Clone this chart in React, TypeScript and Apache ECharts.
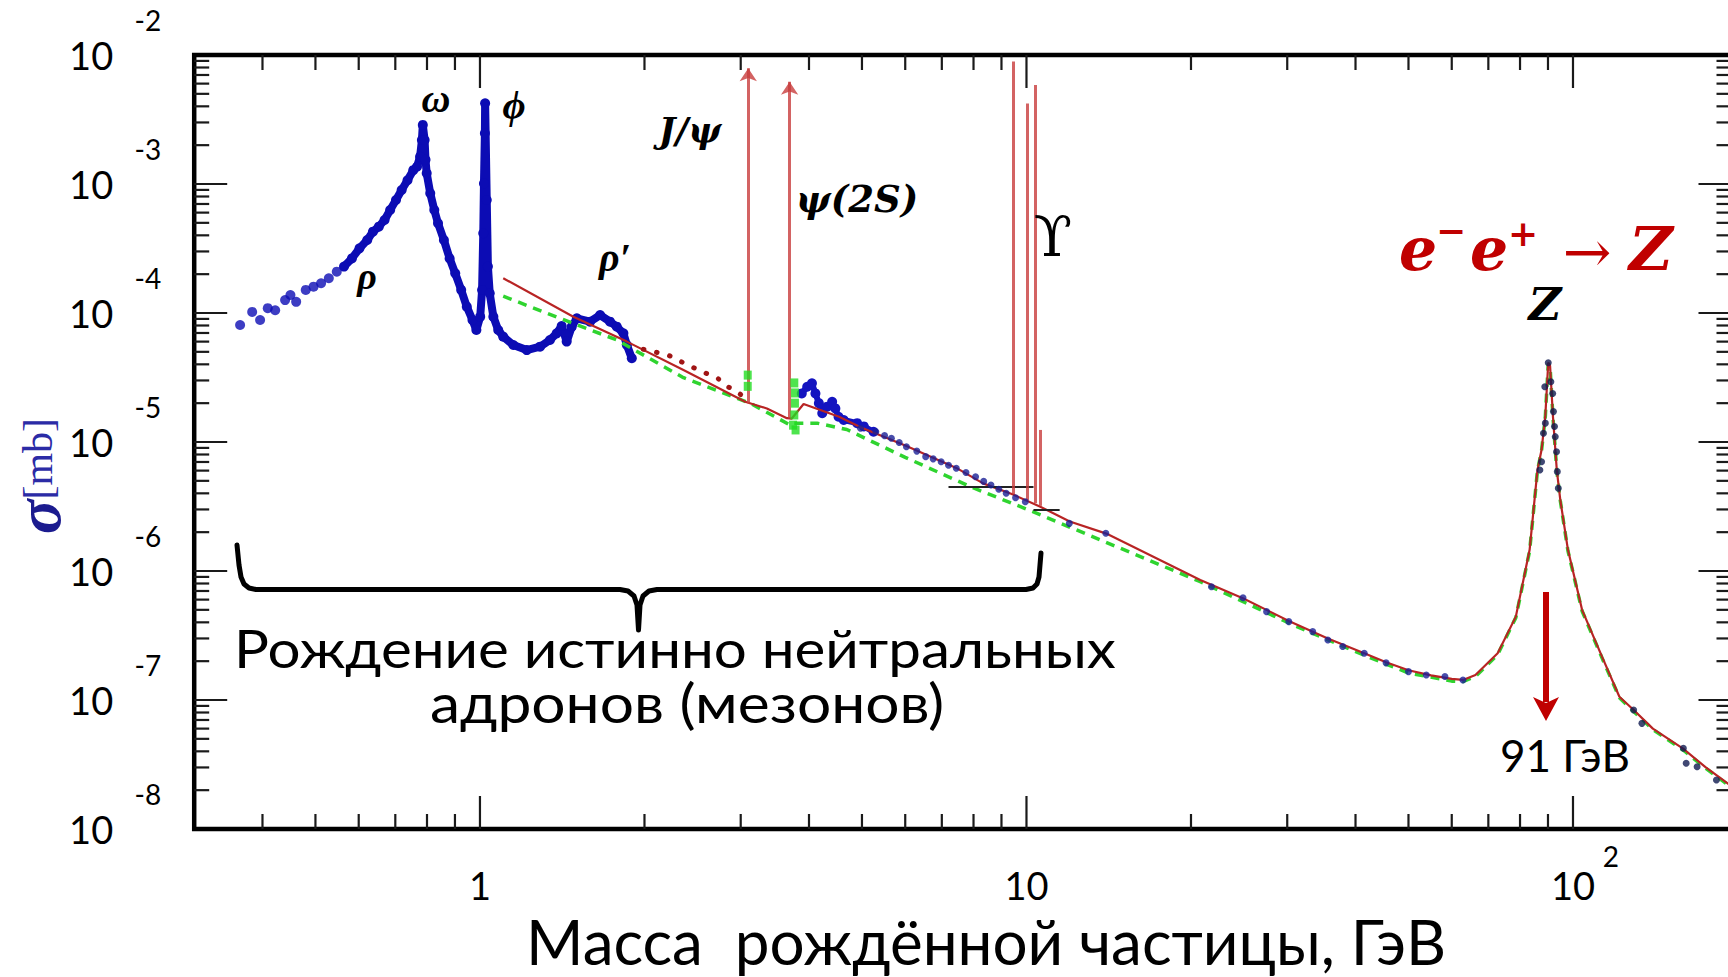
import React, { useEffect, useRef } from "react";
import * as echarts from "echarts";

// ---------- axis ranges & ticks ----------
const X_MIN = 0.3;
const X_MAX = 195;
const Y_MIN = 1e-8;
const Y_MAX = 1e-2;
const xMajorTicks = [1, 10, 100];
const xMinorTicks = [0.4, 0.5, 0.6, 0.7, 0.8, 0.9, 2, 3, 4, 5, 6, 7, 8, 9, 20, 30, 40, 50, 60, 70, 80, 90];
const yMajorTicks = [1e-7, 1e-6, 1e-5, 1e-4, 1e-3];
const yMinorTicks = [
  2e-8, 3e-8, 4e-8, 5e-8, 6e-8, 7e-8, 8e-8, 9e-8,
  2e-7, 3e-7, 4e-7, 5e-7, 6e-7, 7e-7, 8e-7, 9e-7,
  2e-6, 3e-6, 4e-6, 5e-6, 6e-6, 7e-6, 8e-6, 9e-6,
  2e-5, 3e-5, 4e-5, 5e-5, 6e-5, 7e-5, 8e-5, 9e-5,
  2e-4, 3e-4, 4e-4, 5e-4, 6e-4, 7e-4, 8e-4, 9e-4,
  2e-3, 3e-3, 4e-3, 5e-3, 6e-3, 7e-3, 8e-3, 9e-3,
];

// ---------- data (sqrt(s) GeV, sigma mb) ----------
const lowEnergySparse = [
  [0.364, 8.07e-5], [0.383, 1.02e-4], [0.396, 8.83e-5], [0.409, 1.09e-4], [0.422, 1.05e-4],
  [0.44, 1.26e-4], [0.45, 1.38e-4], [0.461, 1.22e-4], [0.48, 1.51e-4], [0.496, 1.6e-4],
  [0.512, 1.7e-4], [0.529, 1.86e-4], [0.547, 2.09e-4],
];
const lowEnergyDense = [
  [0.564, 2.29e-4], [0.583, 2.65e-4], [0.602, 3.17e-4], [0.622, 3.68e-4], [0.637, 4.27e-4],
  [0.653, 4.67e-4], [0.669, 5.26e-4], [0.685, 6.29e-4], [0.702, 7.52e-4], [0.719, 8.98e-4],
  [0.737, 1.07e-3], [0.755, 1.28e-3], [0.767, 1.36e-3], [0.777, 1.63e-3], [0.783, 2.19e-3],
  [0.786, 2.87e-3], [0.792, 2.19e-3], [0.795, 1.54e-3], [0.799, 1.21e-3], [0.811, 8.47e-4],
  [0.825, 6.29e-4], [0.838, 4.96e-4], [0.859, 3.68e-4], [0.88, 2.65e-4], [0.901, 2.03e-4],
  [0.924, 1.51e-4], [0.946, 1.12e-4], [0.969, 8.83e-5], [0.985, 7.38e-5], [1.001, 9.36e-5],
  [1.009, 1.51e-4], [1.014, 4.15e-4], [1.017, 1.01e-3], [1.021, 2.47e-3], [1.022, 4.22e-3],
  [1.029, 7.52e-4], [1.034, 2.29e-4], [1.042, 1.42e-4], [1.058, 9.36e-5], [1.08, 7.38e-5],
  [1.103, 6.55e-5], [1.151, 5.65e-5], [1.218, 5.16e-5], [1.288, 5.48e-5], [1.343, 6.18e-5],
  [1.382, 6.96e-5], [1.411, 7.93e-5], [1.441, 6.0e-5], [1.472, 7.83e-5], [1.504, 9.1e-5],
  [1.59, 8.57e-5], [1.659, 9.64e-5], [1.73, 8.57e-5], [1.78, 7.83e-5], [1.83, 6.96e-5],
  [1.857, 5.65e-5], [1.896, 4.46e-5],
];
const charmRegionData = [
  [3.88, 2.38e-5], [3.97, 2.68e-5], [4.05, 2.85e-5], [4.11, 2.38e-5], [4.17, 2.0e-5],
  [4.23, 1.67e-5], [4.32, 1.88e-5], [4.41, 2.05e-5], [4.47, 1.82e-5], [4.53, 1.57e-5],
  [4.63, 1.48e-5], [4.9, 1.4e-5], [5.04, 1.32e-5], [5.25, 1.2e-5],
];
const greenPsiData = [
  [3.09, 3.3e-5], [3.09, 2.7e-5], [3.76, 2.87e-5], [3.77, 2.4e-5], [3.77, 2.0e-5],
  [3.76, 1.62e-5], [3.74, 1.35e-5], [3.78, 1.24e-5],
];
const midData = [
  [4.97, 1.28e-5], [5.3, 1.2e-5], [5.5, 1.12e-5], [5.66, 1.07e-5], [5.85, 9.9e-6],
  [6.03, 9.2e-6], [6.3, 8.5e-6], [6.54, 7.7e-6], [6.75, 7.4e-6], [6.98, 7.03e-6],
  [7.2, 6.6e-6], [7.44, 6.25e-6], [7.75, 5.8e-6], [8.07, 5.38e-6], [8.35, 4.95e-6],
  [8.61, 4.64e-6], [8.9, 4.3e-6], [9.18, 4.0e-6], [9.55, 3.7e-6], [9.95, 3.44e-6],
  [11.98, 2.34e-6], [13.97, 1.96e-6], [21.8, 7.55e-7], [24.9, 6.2e-7],
  [27.5, 4.84e-7], [30.2, 4.05e-7], [33.4, 3.39e-7], [35.6, 2.92e-7], [37.9, 2.6e-7],
  [41.5, 2.3e-7], [45.5, 1.94e-7], [50.0, 1.66e-7], [53.9, 1.56e-7], [58.3, 1.52e-7],
  [62.9, 1.43e-7],
];
const zPeakData = [
  [86.97, 6.07e-6], [87.6, 7.03e-6], [88.3, 1.17e-5], [89.0, 1.4e-5], [88.8, 2.68e-5],
  [90.1, 4.12e-5], [91.1, 2.93e-5], [91.8, 2.38e-5], [92.1, 1.72e-5], [92.5, 1.32e-5],
  [92.8, 1.1e-5], [93.3, 8.41e-6], [93.6, 5.89e-6], [94.0, 4.38e-6], [129.1, 8.36e-8],
  [133.7, 6.59e-8], [159.2, 4.22e-8], [161.1, 3.23e-8], [168.7, 3.04e-8], [183, 2.4e-8],
];
const qcdCurve = [
  [1.103, 1.86e-4], [1.482, 9.36e-5], [1.857, 6.0e-5], [2.357, 3.61e-5], [3.057, 2.05e-5],
  [3.35, 1.82e-5], [3.645, 1.53e-5], [3.72, 1.52e-5], [3.91, 1.97e-5], [4.54, 1.57e-5],
  [4.97, 1.3e-5], [6.03, 9.3e-6], [7.44, 6.3e-6], [8.33, 4.78e-6], [9.4, 3.95e-6],
  [10.6, 3.15e-6], [12.0, 2.42e-6], [14.0, 1.95e-6], [20.8, 8.5e-7], [25.0, 6.1e-7],
  [30.2, 4.1e-7], [35.6, 3.0e-7], [41.5, 2.3e-7], [45.5, 1.96e-7], [50.0, 1.7e-7],
  [55.0, 1.55e-7], [60.0, 1.46e-7], [62.9, 1.43e-7], [66.3, 1.56e-7], [72.8, 2.3e-7],
  [78.6, 4.43e-7], [83.3, 1.46e-6], [86.1, 6.07e-6], [87.6, 8.7e-6], [89.0, 1.6e-5],
  [90.1, 4.12e-5], [90.8, 3.9e-5], [91.9, 1.58e-5], [93.4, 6.07e-6], [94.8, 3.55e-6],
  [97.9, 1.46e-6], [103.9, 5.0e-7], [113, 2.17e-7], [121.6, 1.06e-7], [129, 8.4e-8],
  [140, 6.0e-8], [159, 4.2e-8], [175, 3.0e-8], [195, 2.15e-8],
];
const partonCurve = [
  [1.103, 1.35e-4], [1.401, 9.1e-5], [1.78, 6.18e-5], [2.357, 3.15e-5], [3.12, 2.0e-5],
  [3.7, 1.35e-5], [3.76, 1.4e-5], [4.14, 1.4e-5], [4.69, 1.25e-5], [6.0, 7.6e-6],
  [8.0, 4.4e-6], [10.1, 2.97e-6], [20.8, 8.26e-7], [30.2, 3.95e-7], [41.5, 2.22e-7],
  [50.0, 1.62e-7], [60.0, 1.4e-7], [62.9, 1.39e-7], [66.3, 1.52e-7], [72.8, 2.25e-7],
  [78.6, 4.35e-7], [83.3, 1.43e-6], [86.1, 6.0e-6], [87.6, 8.6e-6], [89.0, 1.58e-5],
  [90.1, 4.05e-5], [90.8, 3.85e-5], [91.9, 1.56e-5], [93.4, 6.0e-6], [94.8, 3.5e-6],
  [97.9, 1.43e-6], [103.9, 4.9e-7], [113, 2.12e-7], [121.6, 1.04e-7], [129, 8.2e-8],
  [140, 5.9e-8], [159, 4.1e-8], [175, 2.95e-8], [195, 2.1e-8],
];
const dottedCurve = [
  [1.991, 5.23e-5], [2.21, 4.72e-5], [2.4, 3.95e-5], [2.61, 3.37e-5], [2.72, 3.13e-5],
  [2.84, 2.68e-5], [2.93, 2.53e-5], [3.03, 2.25e-5],
];
// resonance spikes: mass, base, top, has arrow
const resonanceMass = [3.097, 3.686, 9.46, 10.02, 10.36, 10.58];
const resonanceBase = [2.0e-5, 1.52e-5, 3.95e-6, 3.55e-6, 3.35e-6, 3.2e-6];
const resonanceTop = [7.9e-3, 6.2e-3, 8.9e-3, 4.2e-3, 5.85e-3, 1.24e-5];
const resonanceArrow = [true, true, false, false, false, false];
// short black reference levels
const levelFrom = [7.2, 10.3];
const levelTo = [10.3, 11.5];
const levelValue = [4.48e-6, 2.97e-6];

// ---------- layout ----------
const GRID_LEFT = 194.2;
const GRID_TOP = 55;
const GRID_W = 1537.3;
const GRID_H = 774;

const tickStyle = { stroke: "#1a1a1a", lineWidth: 2.2 };

function xTickItem(params: any, api: any) {
  const cs = params.coordSys;
  const px = api.coord([api.value(0), api.value(1)])[0];
  const len = api.value(2) === 1 ? 33 : 15;
  return {
    type: "group",
    children: [
      { type: "line", shape: { x1: px, y1: cs.y + cs.height, x2: px, y2: cs.y + cs.height - len }, style: tickStyle },
      { type: "line", shape: { x1: px, y1: cs.y, x2: px, y2: cs.y + len }, style: tickStyle },
    ],
  };
}
function yTickItem(params: any, api: any) {
  const cs = params.coordSys;
  const py = api.coord([api.value(0), api.value(1)])[1];
  const len = api.value(2) === 1 ? 33 : 15;
  return {
    type: "group",
    children: [
      { type: "line", shape: { x1: cs.x, y1: py, x2: cs.x + len, y2: py }, style: tickStyle },
      { type: "line", shape: { x1: cs.x + cs.width, y1: py, x2: cs.x + cs.width - len, y2: py }, style: tickStyle },
    ],
  };
}

const expOf = (v: number) => Math.round(Math.log10(v));

const serif = "'Liberation Serif', 'DejaVu Serif', serif";
const dserif = "'DejaVu Serif', serif";
const sans = "Lato, 'Open Sans', sans-serif";

function txt(text: string, x: number, y: number, o: any = {}) {
  return {
    type: "text",
    x,
    y,
    scaleX: o.scaleX || 1,
    silent: true,
    z: 100,
    style: {
      text,
      fill: o.fill || "#000",
      fontSize: o.fontSize || 40,
      fontFamily: o.fontFamily || sans,
      fontStyle: o.fontStyle || "normal",
      fontWeight: o.fontWeight || "normal",
      lineHeight: o.lineHeight,
      rich: o.rich,
      textAlign: "center",
      align: "center",
      textVerticalAlign: "middle",
      verticalAlign: "middle",
    },
  };
}

function buildOption() {
  const markLineData = resonanceMass.map((m, i) => [
    { coord: [m, resonanceBase[i]], symbol: "none" },
    { coord: [m, resonanceTop[i]], symbol: resonanceArrow[i] ? "arrow" : "none" },
  ]);
  const levelData = levelFrom.map((f, i) => [
    { coord: [f, levelValue[i]], symbol: "none" },
    { coord: [levelTo[i], levelValue[i]], symbol: "none" },
  ]);

  const baseX = {
    type: "log",
    logBase: 10,
    min: X_MIN,
    max: X_MAX,
    gridIndex: 0,
    position: "bottom",
    axisLine: { show: false },
    axisTick: { show: false },
    splitLine: { show: false },
    minorTick: { show: false },
  };
  const baseY = {
    type: "log",
    logBase: 10,
    min: Y_MIN,
    max: Y_MAX,
    gridIndex: 0,
    position: "left",
    axisLine: { show: false },
    axisTick: { show: false },
    splitLine: { show: false },
    minorTick: { show: false },
  };

  return {
    animation: false,
    backgroundColor: "#fff",
    grid: {
      left: GRID_LEFT,
      top: GRID_TOP,
      width: GRID_W,
      height: GRID_H,
      containLabel: false,
      outerBoundsMode: "none",
      show: true,
      borderColor: "#000",
      borderWidth: 4.5,
      backgroundColor: "transparent",
    },
    xAxis: [
      {
        ...baseX,
        axisLabel: {
          showMinLabel: false,
          showMaxLabel: false,
          margin: 37,
          fontSize: 38,
          fontFamily: sans,
          color: "#000",
          formatter: (v: number) => (expOf(v) === 0 ? "1" : "10"),
        },
      },
      {
        ...baseX,
        axisLabel: {
          showMinLabel: false,
          showMaxLabel: false,
          margin: 13,
          fontSize: 28,
          fontFamily: sans,
          color: "#000",
          padding: [0, 0, 0, 76],
          formatter: (v: number) => (expOf(v) >= 2 ? String(expOf(v)) : ""),
        },
      },
    ],
    yAxis: [
      {
        ...baseY,
        axisLabel: {
          showMinLabel: true,
          showMaxLabel: true,
          margin: 81,
          fontSize: 38,
          fontFamily: sans,
          color: "#000",
          formatter: () => "10",
        },
      },
      {
        ...baseY,
        axisLabel: {
          showMinLabel: true,
          showMaxLabel: true,
          margin: 33,
          fontSize: 28,
          fontFamily: sans,
          color: "#000",
          verticalAlign: "bottom",
          lineHeight: 70,
          formatter: (v: number) => String(expOf(v)),
        },
      },
    ],
    series: [
      {
        name: "low energy sparse",
        type: "scatter",
        data: lowEnergySparse,
        symbol: "circle",
        symbolSize: 10,
        itemStyle: { color: "#0c0cb4" },
        z: 2,
        silent: true,
      },
      {
        name: "low energy",
        type: "line",
        data: lowEnergyDense,
        symbol: "circle",
        symbolSize: 10,
        showSymbol: true,
        lineStyle: { color: "#0c0cb4", width: 8 },
        itemStyle: { color: "#0c0cb4" },
        z: 2,
        silent: true,
      },
      {
        name: "parton model",
        type: "line",
        data: partonCurve,
        showSymbol: false,
        symbol: "none",
        lineStyle: { color: "#2fd42f", width: 3.5, type: [9, 7] },
        z: 3,
        silent: true,
        markLine: {
          silent: true,
          symbol: "none",
          label: { show: false },
          lineStyle: { color: "#222", width: 2, type: "solid" },
          data: levelData,
        },
      },
      {
        name: "QCD",
        type: "line",
        data: qcdCurve,
        showSymbol: false,
        symbol: "none",
        lineStyle: { color: "#b82424", width: 2.2 },
        z: 4,
        silent: true,
        markLine: {
          silent: true,
          symbol: "none",
          symbolSize: 13,
          label: { show: false },
          lineStyle: { color: "rgba(200,60,60,0.8)", width: 3, type: "solid" },
          data: markLineData,
        },
      },
      {
        name: "dotted",
        type: "line",
        data: dottedCurve,
        showSymbol: false,
        symbol: "none",
        lineStyle: { color: "#a01414", width: 5, type: [0.5, 13], cap: "round" },
        z: 4,
        silent: true,
      },
      {
        name: "green psi",
        type: "scatter",
        data: greenPsiData,
        symbol: "rect",
        symbolSize: [8, 9],
        itemStyle: { color: "#22dd22" },
        z: 5,
        silent: true,
      },
      {
        name: "charm region",
        type: "line",
        data: charmRegionData,
        symbol: "circle",
        symbolSize: 10,
        showSymbol: true,
        lineStyle: { color: "#1414c0", width: 6 },
        itemStyle: { color: "#1414c0" },
        z: 3,
        silent: true,
      },
      {
        name: "mid data",
        type: "scatter",
        data: midData,
        symbol: "circle",
        symbolSize: 7,
        itemStyle: { color: "#1a2096" },
        z: 6,
        silent: true,
      },
      {
        name: "Z data",
        type: "scatter",
        data: zPeakData,
        symbol: "circle",
        symbolSize: 7,
        itemStyle: { color: "#101a50" },
        z: 6,
        silent: true,
      },
      {
        name: "x ticks",
        type: "custom",
        renderItem: xTickItem,
        data: [...xMajorTicks.map((v) => [v, Y_MIN, 1]), ...xMinorTicks.map((v) => [v, Y_MIN, 0])],
        encode: { x: 0, y: 1 },
        silent: true,
        z: 10,
      },
      {
        name: "y ticks",
        type: "custom",
        renderItem: yTickItem,
        data: [...yMajorTicks.map((v) => [X_MIN, v, 1]), ...yMinorTicks.map((v) => [X_MIN, v, 0])],
        encode: { x: 0, y: 1 },
        silent: true,
        z: 10,
      },
    ],
    graphic: [
      // y-axis title
      {
        type: "text",
        x: 38,
        y: 476,
        rotation: Math.PI / 2,
        silent: true,
        style: {
          text: "{s|σ}{m|[mb]}",
          textAlign: "center",
          align: "center",
          textVerticalAlign: "middle",
          verticalAlign: "middle",
          rich: {
            s: { fontFamily: serif, fontStyle: "italic", fontWeight: "bold", fontSize: 64, lineHeight: 56, fill: "#1b1b8f", color: "#1b1b8f" },
            m: { fontFamily: serif, fontSize: 42, lineHeight: 56, fill: "#2b2ba6", color: "#2b2ba6" },
          },
        },
      },
      // x-axis title
      txt("Масса  рождённой частицы, ГэВ", 986, 941, { fontSize: 62, lineHeight: 62 }),
      // brace annotation
      {
        type: "polyline",
        silent: true,
        shape: {
          points: [
            [237, 545], [239, 565], [241, 577], [244, 584], [249, 588], [256, 589.5],
            [620, 589.5], [628, 591], [634, 596], [637, 605], [638.5, 630],
            [640, 605], [643, 596], [649, 591], [657, 589.5],
            [1026, 589.5], [1033, 588], [1037, 584], [1039, 577], [1040, 565], [1041, 553],
          ],
        },
        style: { stroke: "#000", lineWidth: 5, fill: null, lineJoin: "round", lineCap: "round" },
      },
      txt("{a|Рождение истинно нейтральных}\n{b|адронов (мезонов)}", 675, 675, {
        fontSize: 53,
        lineHeight: 54,
        scaleX: 1.1,
        rich: {
          a: { fontSize: 53, lineHeight: 54, fontFamily: sans, fill: "#000", color: "#000" },
          b: { fontSize: 55, lineHeight: 54, fontFamily: sans, fill: "#000", color: "#000", padding: [0, 0, 0, 22] },
        },
      }),
      // particle labels
      txt("ρ", 367, 276, { fontFamily: serif, fontStyle: "italic", fontWeight: "bold", fontSize: 38 }),
      txt("ω", 436, 98, { fontFamily: serif, fontStyle: "italic", fontWeight: "bold", fontSize: 40 }),
      txt("ϕ", 514, 104, { fontFamily: serif, fontStyle: "italic", fontWeight: "bold", fontSize: 40 }),
      txt("ρ′", 615, 257, { fontFamily: serif, fontStyle: "italic", fontWeight: "bold", fontSize: 40 }),
      txt("J/ψ", 690, 130, { fontFamily: dserif, fontStyle: "italic", fontWeight: "bold", fontSize: 35 }),
      txt("ψ(2S)", 857, 199, { fontFamily: dserif, fontStyle: "italic", fontWeight: "bold", fontSize: 37 }),
      txt("ϒ", 1053, 236, { fontFamily: dserif, fontSize: 56 }),
      txt("Z", 1545, 304, { fontFamily: dserif, fontStyle: "italic", fontWeight: "bold", fontSize: 45 }),
      // e- e+ -> Z
      txt("e", 1418, 249, { fontFamily: dserif, fontStyle: "italic", fontWeight: "bold", fontSize: 60, fill: "#c00000" }),
      txt("−", 1451, 230, { fontFamily: dserif, fontWeight: "bold", fontSize: 36, fill: "#c00000" }),
      txt("e", 1489, 249, { fontFamily: dserif, fontStyle: "italic", fontWeight: "bold", fontSize: 60, fill: "#c00000" }),
      txt("+", 1523, 233, { fontFamily: dserif, fontWeight: "bold", fontSize: 36, fill: "#c00000" }),
      txt("→", 1587, 252, { fontFamily: dserif, fontSize: 58, fill: "#c00000" }),
      txt("Z", 1651, 249, { fontFamily: dserif, fontStyle: "italic", fontWeight: "bold", fontSize: 60, fill: "#c00000" }),
      // Z arrow + label
      {
        type: "line",
        silent: true,
        shape: { x1: 1546, y1: 592, x2: 1546, y2: 702 },
        style: { stroke: "#c00000", lineWidth: 6 },
      },
      {
        type: "polygon",
        silent: true,
        shape: { points: [[1533, 697], [1546, 703], [1559, 697], [1546, 721]] },
        style: { fill: "#c00000" },
      },
      txt("91 ГэВ", 1565, 755, { fontSize: 44 }),
    ],
  };
}

export default function App() {
  const ref = useRef<HTMLDivElement>(null);
  useEffect(() => {
    document.body.style.margin = "0";
    const chart = echarts.init(ref.current!, undefined, { renderer: "svg" });
    chart.setOption(buildOption() as any);
    return () => chart.dispose();
  }, []);
  return <div ref={ref} style={{ width: 1728, height: 977, overflow: "hidden", background: "#fff" }} />;
}
